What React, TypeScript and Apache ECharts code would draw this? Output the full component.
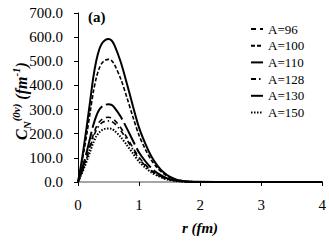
import React, { useEffect, useRef } from "react";
import * as echarts from "echarts";

const rValues = [0, 0.05, 0.1, 0.15, 0.2, 0.25, 0.3, 0.35, 0.4, 0.45, 0.5, 0.55, 0.6, 0.7, 0.8, 0.9, 1.0, 1.1, 1.2, 1.3, 1.4, 1.5, 1.6, 1.7, 1.8, 2.0, 2.5, 3.0, 3.5, 4.0];

const a96 = [0, 32, 70, 110, 153, 196, 228, 249, 261, 267, 268, 265, 256, 225, 185, 142, 102, 72, 48, 31, 18, 10, 5, 2, 1, 0, 0, 0, 0, 0];
const a100 = [0, 61, 132, 208, 290, 371, 432, 472, 495, 505, 508, 503, 485, 427, 351, 269, 193, 137, 91, 58, 35, 19, 10, 5, 2, 1, 0, 0, 0, 0];
const a110 = [0, 71, 154, 243, 337, 432, 503, 551, 577, 589, 592, 586, 565, 497, 408, 314, 225, 160, 107, 68, 40, 22, 11, 5, 2, 1, 0, 0, 0, 0];
const a128 = [0, 30, 66, 104, 144, 185, 215, 235, 247, 252, 253, 250, 242, 213, 175, 134, 96, 68, 46, 29, 17, 9, 5, 2, 1, 0, 0, 0, 0, 0];
const a130 = [0, 39, 84, 132, 184, 235, 274, 300, 314, 320, 322, 319, 307, 270, 222, 171, 122, 87, 58, 37, 22, 12, 6, 3, 1, 0, 0, 0, 0, 0];
const a150 = [0, 27, 58, 91, 127, 162, 189, 206, 216, 221, 222, 220, 212, 186, 153, 118, 84, 60, 40, 26, 15, 8, 4, 2, 1, 0, 0, 0, 0, 0];

const seriesNames = ["A=96", "A=100", "A=110", "A=128", "A=130", "A=150"];
const seriesValues = [a96, a100, a110, a128, a130, a150];

const FONT = "Liberation Serif";

const lineStyles: any[] = [
  { width: 1.6, type: [5, 4] },
  { width: 1.6, type: [4, 2] },
  { width: 2, type: "solid" },
  { width: 1.6, type: [5, 3, 1.5, 3] },
  { width: 2, type: [24, 4] },
  { width: 2, type: [1.5, 1.5] },
];

export default function App() {
  const ref = useRef<HTMLDivElement>(null);
  useEffect(() => {
    if (!ref.current) return;
    const chart = echarts.init(ref.current, null, { renderer: "svg" });
    const series = seriesNames.map((name, i) => ({
      name,
      type: "line",
      data: rValues.map((r, j) => [r, seriesValues[i][j]]),
      smooth: 0.3,
      symbol: "none",
      showSymbol: false,
      lineStyle: { color: "#000", ...lineStyles[i] },
      itemStyle: { color: "#000" },
    }));
    chart.setOption({
      animation: false,
      backgroundColor: "#fff",
      textStyle: { fontFamily: FONT },
      grid: { left: 78, right: 6, top: 13, bottom: 60, containLabel: false },
      legend: {
        orient: "vertical",
        left: 245,
        top: 16,
        itemWidth: 12,
        itemHeight: 10,
        itemGap: 0.7,
        itemStyle: { opacity: 0 },
        textStyle: { fontFamily: FONT, fontSize: 13, color: "#000", lineHeight: 16 },
        data: seriesNames,
      },
      xAxis: {
        type: "value",
        min: 0,
        max: 4,
        interval: 1,
        axisLine: { lineStyle: { color: "#888", width: 1.5 } },
        axisTick: { show: true, length: 4, lineStyle: { color: "#000" } },
        axisLabel: { fontFamily: FONT, fontSize: 15, color: "#000", margin: 15 },
        splitLine: { show: false },
      },
      yAxis: {
        type: "value",
        min: 0,
        max: 700,
        interval: 100,
        axisLine: { show: true, lineStyle: { color: "#000", width: 1 } },
        axisTick: { show: true, length: 4, lineStyle: { color: "#000" } },
        axisLabel: {
          fontFamily: FONT,
          fontSize: 15,
          color: "#000",
          margin: 15,
          formatter: (v: number) => v.toFixed(1),
        },
        splitLine: { show: false },
      },
      graphic: [
        {
          type: "text",
          left: 88,
          top: 9,
          style: { text: "(a)", fontFamily: FONT, fontSize: 15, fontWeight: "bold", fill: "#000" },
        },
        {
          type: "text",
          x: 200,
          y: 228,
          style: {
            text: "r (fm)",
            fontFamily: FONT,
            fontSize: 15,
            fontWeight: "bold",
            fontStyle: "italic",
            fill: "#000",
            align: "center",
            verticalAlign: "middle",
          },
        },
        {
          type: "text",
          x: 21,
          y: 101,
          rotation: Math.PI / 2,
          style: {
            text: "{c|C}{sub|N}{sup|(0ν)}{c| (fm}{sup|-1}{c|)}",
            align: "center",
            verticalAlign: "middle",
            fill: "#000",
            rich: {
              c: { fontFamily: FONT, fontSize: 16, fontWeight: "bold", fontStyle: "italic", lineHeight: 22, verticalAlign: "middle" },
              sub: { fontFamily: FONT, fontSize: 11, fontWeight: "bold", fontStyle: "italic", lineHeight: 22, verticalAlign: "bottom", padding: [6, 0, 0, 0] },
              sup: { fontFamily: FONT, fontSize: 11, fontWeight: "bold", fontStyle: "italic", lineHeight: 22, verticalAlign: "top", padding: [0, 0, 8, 0] },
            },
          },
        },
      ],
      series,
    });
    return () => chart.dispose();
  }, []);
  return (
    <div
      ref={ref}
      style={{ position: "fixed", left: 0, top: 0, width: 329, height: 242, background: "#fff" }}
    />
  );
}
